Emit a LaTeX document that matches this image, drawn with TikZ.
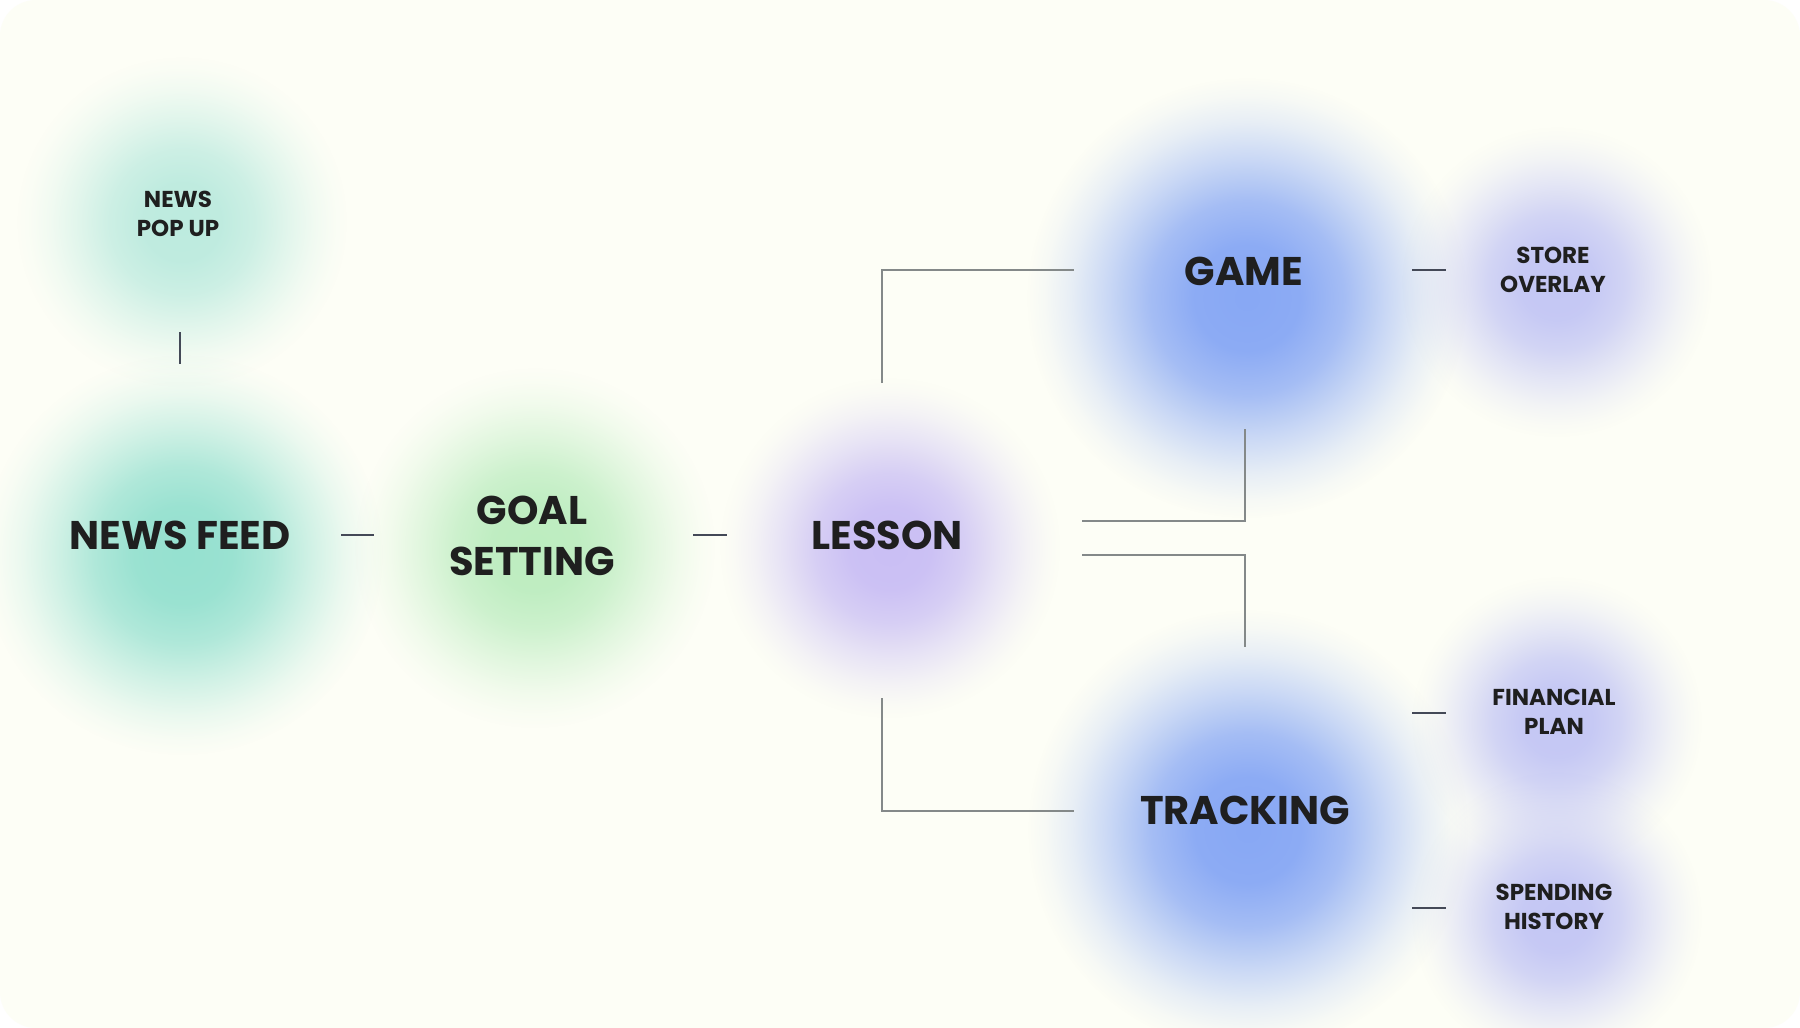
\documentclass[tikz,border=0pt]{standalone}
\usepackage{fontspec}
\setmainfont{Poppins}
\usetikzlibrary{fadings}
\pgfdeclareradialshading{glowshade}{\pgfpointorigin}{color(0bp)=(transparent!0); color(6bp)=(transparent!4); color(11bp)=(transparent!25); color(16bp)=(transparent!58); color(20bp)=(transparent!82); color(23bp)=(transparent!95); color(25bp)=(transparent!100); color(50bp)=(transparent!100)}
\pgfdeclarefading{glowfade}{\pgfuseshading{glowshade}}
\definecolor{bgcream}{HTML}{FDFEF6}
\definecolor{glowteal}{HTML}{96E1D0}
\definecolor{glowtealsoft}{HTML}{BDEBDF}
\definecolor{glowgreen}{HTML}{BDEDC0}
\definecolor{glowpurple}{HTML}{CABFF4}
\definecolor{glowblue}{HTML}{88A8F4}
\definecolor{glowlav}{HTML}{C4C7F4}
\definecolor{txt}{HTML}{1F1F1F}
\definecolor{brk}{HTML}{848989}
\definecolor{dsh}{HTML}{444957}
\tikzset{
  glow/.style={path fading=glowfade},
  bigtext/.style={inner sep=0pt, text=txt, font=\fontsize{40}{51}\selectfont\bfseries, align=center},
  smalltext/.style={inner sep=0pt, text=txt, font=\fontsize{23}{29}\selectfont\bfseries, align=center},
  bracket/.style={draw=brk, line width=2.4pt},
  dashline/.style={draw=dsh, line width=1.6pt},
}
\begin{document}
\begin{tikzpicture}[x=1pt,y=-1pt]
\useasboundingbox (0,0) rectangle (1800,1028);
\fill[white] (0,0) rectangle (1800,1028);
\fill[bgcream, rounded corners=36pt] (0,0) rectangle (1800,1028);
% glows
\fill[glowtealsoft, glow] (182,222) circle (165);
\fill[glowteal, glow] (183,555) circle (200);
\fill[glowgreen, glow] (535,548) circle (180);
\fill[glowpurple, glow] (890,548) circle (170);
\fill[glowblue, glow] (1247,298) circle (220);
\fill[glowblue, glow] (1248,830) circle (220);
\fill[glowlav, glow] (1557,282) circle (155);
\fill[glowlav, glow] (1557,722) circle (145);
\fill[glowlav, glow] (1557,917) circle (145);
% nodes
\node[smalltext] (np) at (178,214) {NEWS\\POP UP};
\node[bigtext] (nf) at (180,535) {NEWS FEED};
\node[bigtext] (gs) at (532,536) {GOAL\\SETTING};
\node[bigtext] (ls) at (887,535) {LESSON};
\node[bigtext] (gm) at (1244,271) {GAME};
\node[bigtext] (tr) at (1245,810) {TRACKING};
\node[smalltext] (so) at (1553,270) {STORE\\OVERLAY};
\node[smalltext] (fp) at (1554,712) {FINANCIAL\\PLAN};
\node[smalltext] (sh) at (1554,907) {SPENDING\\HISTORY};
% connector end points
\coordinate (npA) at (180,332);
\coordinate (npB) at (180,364);
\coordinate (d1A) at (341,535);
\coordinate (d1B) at (374,535);
\coordinate (d2A) at (693,535);
\coordinate (d2B) at (727,535);
\coordinate (tbA) at (882,383);
\coordinate (tbB) at (1074,270);
\coordinate (urA) at (1082,521);
\coordinate (urB) at (1245,429);
\coordinate (lrA) at (1082,555);
\coordinate (lrB) at (1245,647);
\coordinate (bbA) at (882,698);
\coordinate (bbB) at (1074,811);
\coordinate (r1A) at (1412,270);
\coordinate (r1B) at (1446,270);
\coordinate (r2A) at (1412,713);
\coordinate (r2B) at (1446,713);
\coordinate (r3A) at (1412,908);
\coordinate (r3B) at (1446,908);
% connectors
\draw[dashline] (npA) -- (npB);
\draw[dashline] (d1A) -- (d1B);
\draw[dashline] (d2A) -- (d2B);
\draw[bracket] (tbA) |- (tbB);
\draw[bracket] (urA) -| (urB);
\draw[bracket] (lrA) -| (lrB);
\draw[bracket] (bbA) |- (bbB);
\draw[dashline] (r1A) -- (r1B);
\draw[dashline] (r2A) -- (r2B);
\draw[dashline] (r3A) -- (r3B);
\end{tikzpicture}
\end{document}
